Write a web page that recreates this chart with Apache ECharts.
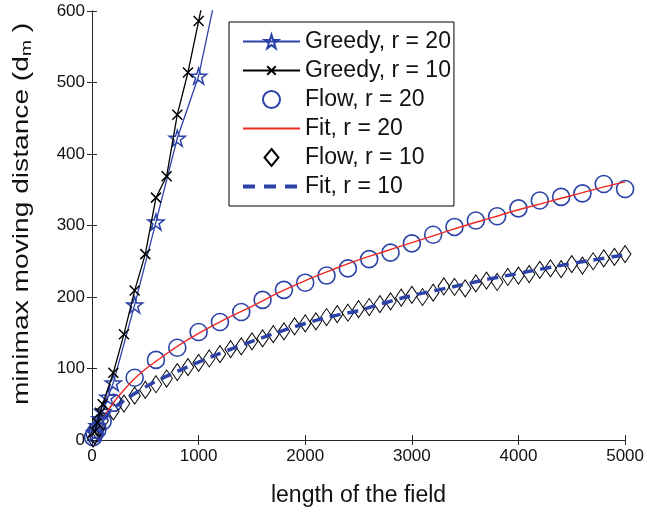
<!DOCTYPE html>
<html><head><meta charset="utf-8">
<script src="https://cdn.jsdelivr.net/npm/echarts@6/dist/echarts.min.js"></script>
<style>html,body{margin:0;padding:0;background:#fff}#c{width:647px;height:516px}</style>
</head><body><div id="c"></div>
<script>
// ---- data ----
var greedy20X = [25, 50, 75, 100, 150, 200, 400, 600, 800, 1000, 1200];
var greedy20Y = [10, 20, 30, 40, 60, 80, 189, 305, 422, 509, 650];
var greedy10X = [25, 50, 75, 100, 200, 300, 400, 500, 600, 700, 800, 900, 1000, 1100];
var greedy10Y = [12, 24, 38, 50, 94, 148, 209, 260, 339, 369, 455, 514, 586, 658];
var flow20X = [10, 25, 50, 100, 200, 400, 600, 800, 1000, 1200, 1400, 1600, 1800, 2000, 2200, 2400, 2600, 2800, 3000, 3200, 3400, 3600, 3800, 4000, 4200, 4400, 4600, 4800, 5000];
var flow20Y = [4, 9, 14, 26, 52, 87, 112, 129, 151, 165, 179, 196, 210, 220, 230, 240, 253, 262, 275, 287, 298, 307, 313, 324, 335, 340, 345, 358, 351];
var fit20X = [100, 200, 300, 400, 500, 600, 800, 1000, 1250, 1500, 1750, 2000, 2250, 2500, 2750, 3000, 3250, 3500, 3750, 4000, 4250, 4500, 4750, 5000];
var fit20Y = [30, 52, 70, 86, 99, 110, 131, 149, 169, 187, 206, 223, 238, 252, 264, 276, 288, 300, 311, 322, 332, 342, 352, 361];
var flow10X = [10, 25, 50, 75, 100, 200, 300, 400, 500, 600, 700, 800, 900, 1000, 1100, 1200, 1300, 1400, 1500, 1600, 1700, 1800, 1900, 2000, 2100, 2200, 2300, 2400, 2500, 2600, 2700, 2800, 2900, 3000, 3100, 3200, 3300, 3400, 3500, 3600, 3700, 3800, 3900, 4000, 4100, 4200, 4300, 4400, 4500, 4600, 4700, 4800, 4900, 5000];
var flow10Y = [2, 6, 12, 19, 27, 40, 51, 62, 70, 78, 86, 95, 102, 108, 114, 120, 127, 131, 138, 142, 148, 152, 159, 163, 166, 172, 176, 178, 183, 186, 190, 194, 199, 203, 200, 206, 215, 214, 212, 219, 223, 221, 228, 230, 232, 238, 240, 239, 246, 244, 250, 254, 256, 260];
var fit10X = [100, 200, 300, 400, 500, 600, 800, 1000, 1250, 1500, 1750, 2000, 2250, 2500, 2750, 3000, 3250, 3500, 3750, 4000, 4250, 4500, 4750, 5000];
var fit10Y = [28, 44, 55, 65, 74, 82, 96, 109, 124, 138, 151, 163, 173, 181, 192, 202, 210, 218, 226, 233, 240, 247, 253, 259];
var seriesNames = ['Greedy, r = 20', 'Greedy, r = 10', 'Flow, r = 20', 'Fit, r = 20', 'Flow, r = 10', 'Fit, r = 10'];
var xTicks = {min: 0, max: 5000, interval: 1000};
var yTicks = {min: 0, max: 600, interval: 100};
var xTitle = 'length of the field';
var yTitle = 'minimax moving distance (d{sub|m} )';

function pairs(xs, ys) { return xs.map(function (x, i) { return [x, ys[i]]; }); }

var BLUE = '#2c42a8', RED = '#ee2a22', BLACK = '#000000';
var STAR = 'path://M50,2 L61.2,36.3 L97.5,36.3 L68.2,57.6 L79.4,92 L50,70.8 L20.6,92 L31.8,57.6 L2.5,36.3 L38.8,36.3 Z';
var CROSS = 'path://M0,0 M3,3 L13,13 M13,3 L3,13 M16,16';
var DIAMOND = 'path://M7,0 L14,8.5 L7,17 L0,8.5 Z';
var FONT = '"Liberation Sans", Arial, Helvetica, sans-serif';
var CLEAR = 'rgba(0,0,0,0)';

var legendData = seriesNames.map(function (n, i) {
  return i === 5 ? {name: n, lineStyle: {width: 4, type: [12, 9], color: BLUE}} : {name: n};
});

var chart = echarts.init(document.getElementById('c'), null, {renderer: 'canvas'});
var axisCommon = {
  axisLine: {show: true, lineStyle: {color: '#262626', width: 1}},
  axisTick: {show: true, inside: true, length: 5, lineStyle: {color: '#262626'}},
  splitLine: {show: false}
};
var plain = function (v) { return String(v); };
chart.setOption({
  animation: false,
  backgroundColor: '#fff',
  textStyle: {fontFamily: FONT},
  grid: {left: 92, right: 21, top: 11, bottom: 76, containLabel: false},
  legend: {
    orient: 'vertical', left: 229, top: 22,
    data: legendData,
    itemWidth: 57, itemHeight: 17, itemGap: 6,
    padding: [8, 3, 8, 12],
    borderColor: '#000', borderWidth: 1, backgroundColor: '#fff',
    textStyle: {fontSize: 23, lineHeight: 22, color: '#111', fontFamily: FONT},
    selectedMode: false
  },
  graphic: [{
    type: 'text', x: 22, y: 214, rotation: Math.PI / 2, scaleX: 1.28, scaleY: 1,
    style: {text: yTitle, font: '22px ' + FONT, fill: '#111', align: 'center', verticalAlign: 'middle',
      rich: {sub: {fontSize: 15, padding: [10, 0, 0, 0], fill: '#111', fontFamily: FONT}}}
  }],
  xAxis: [
    Object.assign({type: 'value', position: 'bottom', min: xTicks.min, max: xTicks.max, interval: xTicks.interval,
      name: xTitle, nameLocation: 'middle', nameGap: 44,
      nameTextStyle: {fontSize: 23, color: '#111', fontFamily: FONT},
      axisLabel: {fontSize: 17, color: '#111', margin: 8, fontFamily: FONT, formatter: plain}}, axisCommon),
    Object.assign({type: 'value', position: 'top', min: xTicks.min, max: xTicks.max, interval: xTicks.interval,
      axisLabel: {show: false}}, axisCommon)
  ],
  yAxis: [
    Object.assign({type: 'value', position: 'left', min: yTicks.min, max: yTicks.max, interval: yTicks.interval,
      axisLabel: {fontSize: 17, color: '#111', margin: 7, fontFamily: FONT, formatter: plain}}, axisCommon),
    Object.assign({type: 'value', position: 'right', min: yTicks.min, max: yTicks.max, interval: yTicks.interval,
      axisLabel: {show: false}}, axisCommon)
  ],
  series: [
    {name: seriesNames[0], type: 'line', data: pairs(greedy20X, greedy20Y), clip: true,
      symbol: STAR, symbolSize: 16, showSymbol: true, z: 4,
      lineStyle: {color: BLUE, width: 1.3},
      itemStyle: {color: CLEAR, borderColor: BLUE, borderWidth: 1.5}},
    {name: seriesNames[1], type: 'line', data: pairs(greedy10X, greedy10Y), clip: true,
      symbol: CROSS, symbolSize: 16, showSymbol: true, z: 5,
      lineStyle: {color: BLACK, width: 1.3},
      itemStyle: {color: CLEAR, borderColor: BLACK, borderWidth: 1.5}},
    {name: seriesNames[2], type: 'scatter', data: pairs(flow20X, flow20Y), clip: true,
      symbol: 'circle', symbolSize: 17, z: 3,
      itemStyle: {color: CLEAR, borderColor: BLUE, borderWidth: 1.6, opacity: 1}},
    {name: seriesNames[3], type: 'line', data: pairs(fit20X, fit20Y), clip: true,
      symbol: 'none', smooth: 0.4, z: 6,
      lineStyle: {color: RED, width: 1.4},
      itemStyle: {color: CLEAR, borderWidth: 0}},
    {name: seriesNames[4], type: 'scatter', data: pairs(flow10X, flow10Y), clip: true,
      symbol: DIAMOND, symbolSize: [14, 17], symbolKeepAspect: true, z: 3,
      itemStyle: {color: CLEAR, borderColor: BLACK, borderWidth: 1, opacity: 1}},
    {name: seriesNames[5], type: 'line', data: pairs(fit10X, fit10Y), clip: true,
      symbol: 'none', smooth: 0.4, z: 6,
      lineStyle: {color: BLUE, width: 3.5, type: [11, 7]},
      itemStyle: {color: CLEAR, borderWidth: 0}}
  ]
});
</script>
</body></html>
